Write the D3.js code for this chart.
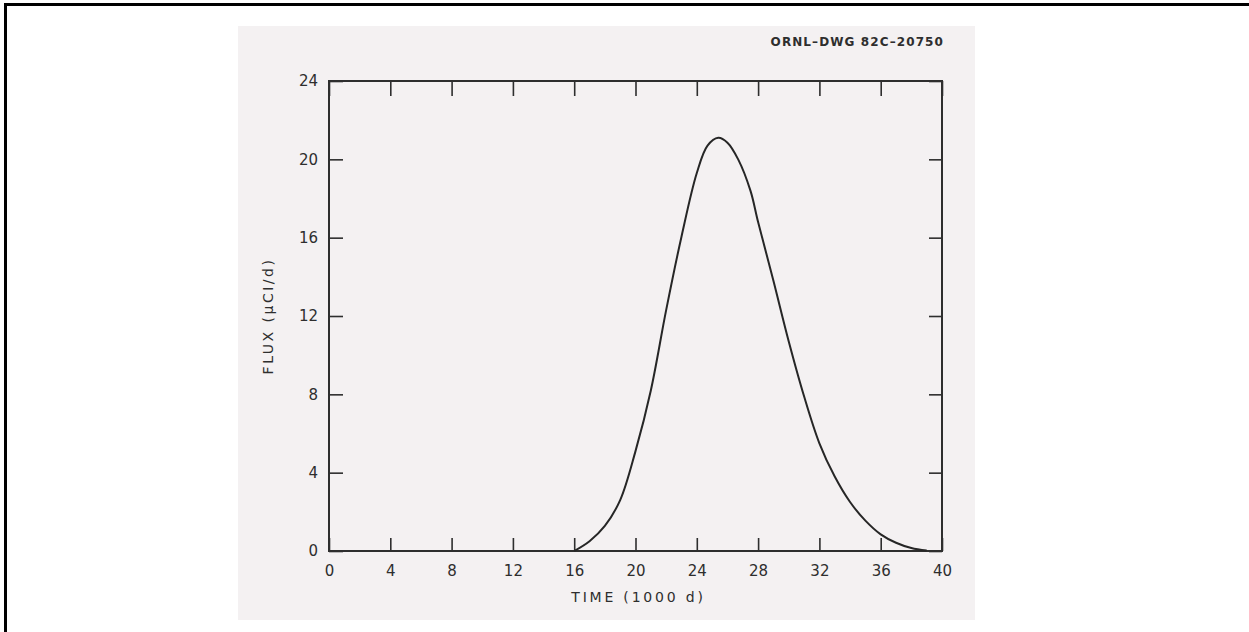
<!DOCTYPE html>
<html>
<head>
<meta charset="utf-8">
<script src="https://cdn.jsdelivr.net/npm/d3@7"></script>
<style>
  body { margin: 0; background: #ffffff; }
  text { font-family: "DejaVu Sans", sans-serif; }
</style>
</head>
<body>
<div class="FLUX"></div>
<script>

// curve: time (1000 d) and flux (uCi/d)
var time = [16, 17, 18, 19, 20, 21, 22, 23, 24, 24.7, 25.4, 26, 26.7, 27.5, 28, 29, 30, 31, 32, 33, 34, 35, 36, 37, 38, 39];
var flux = [0, 0.5, 1.28, 2.6, 5.1, 8.2, 12.3, 16.05, 19.3, 20.7, 21.1, 20.85, 20.0, 18.4, 16.8, 13.8, 10.7, 7.9, 5.5, 3.8, 2.5, 1.55, 0.85, 0.42, 0.15, 0.02];

var xTicks = [0, 4, 8, 12, 16, 20, 24, 28, 32, 36, 40];
var yTicks = [0, 4, 8, 12, 16, 20, 24];

var xTitle = "TIME (1000 d)";
var yTitle = "FLUX (\u03bcCI/d)";
var dwgLabel = "ORNL\u2013DWG 82C\u201320750";

var W = 1249, H = 632;
var plot = {left: 329, right: 942, top: 81, bottom: 551};
var ink = "#2e2e2e";

var canvas = d3.select(".FLUX").append("svg")
    .attr("width", W)
    .attr("height", H);

// black border, only top and left show in the picture
canvas.append("rect").attr("x", 4).attr("y", 3).attr("width", W - 4).attr("height", 3).attr("fill", "#000");
canvas.append("rect").attr("x", 4).attr("y", 3).attr("width", 3).attr("height", H - 3).attr("fill", "#000");

// the scanned sheet
canvas.append("rect")
    .attr("x", 238)
    .attr("y", 26)
    .attr("width", 975 - 238)
    .attr("height", 620 - 26)
    .attr("fill", "#f4f1f2");

var x = d3.scaleLinear().domain([0, 40]).range([plot.left, plot.right]);
var y = d3.scaleLinear().domain([0, 24]).range([plot.bottom, plot.top]);

// axes, ticks point inward
canvas.append("g")
    .attr("transform", "translate(0," + plot.bottom + ")")
    .call(d3.axisBottom(x).tickValues(xTicks).tickSize(-13).tickPadding(14).tickFormat(d3.format("d")));

canvas.append("g")
    .attr("transform", "translate(0," + plot.top + ")")
    .call(d3.axisTop(x).tickValues(xTicks).tickSize(-15).tickFormat(""));

canvas.append("g")
    .attr("transform", "translate(" + plot.left + ",0)")
    .call(d3.axisLeft(y).tickValues(yTicks).tickSize(-14).tickPadding(11).tickFormat(d3.format("d")));

canvas.append("g")
    .attr("transform", "translate(" + plot.right + ",0)")
    .call(d3.axisRight(y).tickValues(yTicks).tickSize(-13).tickFormat(""));

canvas.selectAll(".domain").remove();
canvas.selectAll(".tick line").attr("stroke", ink).attr("stroke-width", 1.6);
canvas.selectAll(".tick text")
    .attr("fill", ink)
    .attr("font-size", "15px");

// frame
canvas.append("rect")
    .attr("x", plot.left)
    .attr("y", plot.top)
    .attr("width", plot.right - plot.left)
    .attr("height", plot.bottom - plot.top)
    .attr("fill", "none")
    .attr("stroke", ink)
    .attr("stroke-width", 2);

// the flux curve
var pts = time.map(function(t, i) { return [t, flux[i]]; });
var line = d3.line()
    .x(function(d) { return x(d[0]); })
    .y(function(d) { return y(d[1]); })
    .curve(d3.curveCatmullRom.alpha(0.5));

canvas.append("path")
    .datum(pts)
    .attr("d", line)
    .attr("fill", "none")
    .attr("stroke", "#262626")
    .attr("stroke-width", 2);

// titles
canvas.append("text")
    .attr("x", (plot.left + plot.right) / 2 + 3)
    .attr("y", 602)
    .attr("text-anchor", "middle")
    .attr("font-size", "14px")
    .attr("letter-spacing", "2.8px")
    .attr("fill", ink)
    .text(xTitle);

canvas.append("text")
    .attr("transform", "translate(273," + ((plot.top + plot.bottom) / 2) + ") rotate(-90)")
    .attr("text-anchor", "middle")
    .attr("font-size", "14px")
    .attr("letter-spacing", "2.5px")
    .attr("fill", ink)
    .text(yTitle);

canvas.append("text")
    .attr("x", 944)
    .attr("y", 46)
    .attr("text-anchor", "end")
    .attr("font-size", "12px")
    .attr("font-weight", "bold")
    .attr("letter-spacing", "1.1px")
    .attr("fill", ink)
    .text(dwgLabel);

</script>
</body>
</html>
